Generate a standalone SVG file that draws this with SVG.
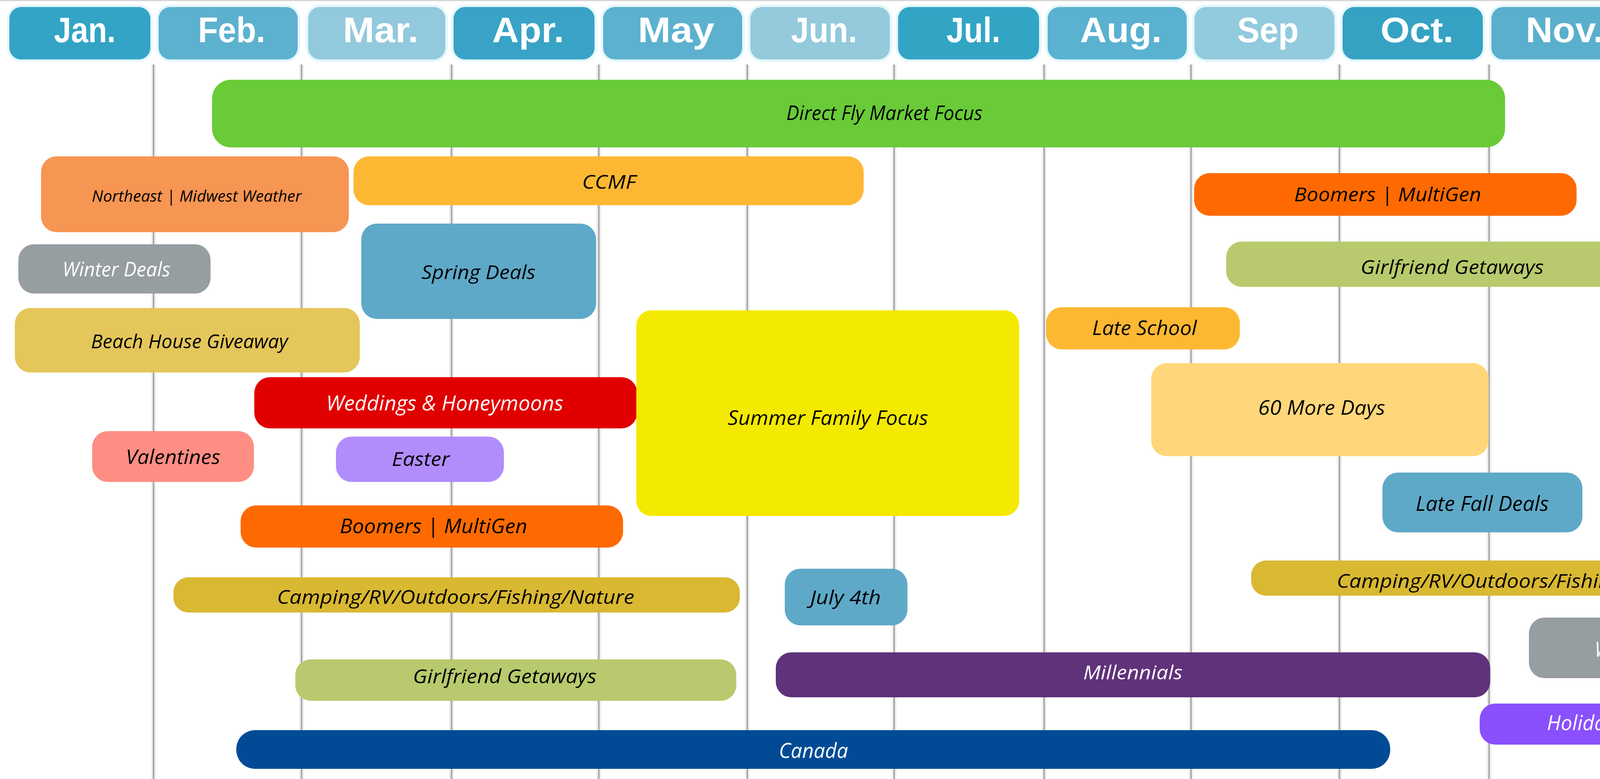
<svg xmlns="http://www.w3.org/2000/svg" width="4578" height="1993" viewBox="0 0 4578 1993">
<style>
.mon{stroke:#e3f7fc;stroke-width:6}
.ml{font-family:"Liberation Sans",Arial,sans-serif;font-weight:bold;font-size:90px;fill:#ffffff}
.gh{stroke:#ededed;stroke-width:12}
.gc{stroke:#a9a9a9;stroke-width:4}
.t{font-family:"Open Sans","Noto Sans","Liberation Sans",sans-serif;font-style:italic;fill:#000000}
.w{fill:#ffffff}
</style>
<rect x="0" y="0" width="4578" height="1993" fill="#ffffff"/>
<rect x="0" y="0" width="4578" height="3" fill="#d6d6d6"/>
<g id="gridlines">
<g class="gh">
<line x1="393" y1="165" x2="393" y2="1993"/><line x1="772" y1="165" x2="772" y2="1993"/><line x1="1156" y1="165" x2="1156" y2="1993"/><line x1="1533" y1="165" x2="1533" y2="1993"/><line x1="1913" y1="165" x2="1913" y2="1993"/><line x1="2289" y1="165" x2="2289" y2="1993"/><line x1="2673" y1="165" x2="2673" y2="1993"/><line x1="3049" y1="165" x2="3049" y2="1993"/><line x1="3429" y1="165" x2="3429" y2="1993"/><line x1="3812" y1="165" x2="3812" y2="1993"/><line x1="4187" y1="165" x2="4187" y2="1993"/>
</g>
<g class="gc">
<line x1="393" y1="165" x2="393" y2="1993"/><line x1="772" y1="165" x2="772" y2="1993"/><line x1="1156" y1="165" x2="1156" y2="1993"/><line x1="1533" y1="165" x2="1533" y2="1993"/><line x1="1913" y1="165" x2="1913" y2="1993"/><line x1="2289" y1="165" x2="2289" y2="1993"/><line x1="2673" y1="165" x2="2673" y2="1993"/><line x1="3049" y1="165" x2="3049" y2="1993"/><line x1="3429" y1="165" x2="3429" y2="1993"/><line x1="3812" y1="165" x2="3812" y2="1993"/><line x1="4187" y1="165" x2="4187" y2="1993"/>
</g>
</g>
<g id="months">
<g id="m-jan"><rect class="mon" x="21" y="15" width="367" height="140" rx="33" fill="#33a4c6"/><text class="ml" x="138" y="108" textLength="158" lengthAdjust="spacingAndGlyphs">Jan.</text></g>
<g id="m-feb"><rect class="mon" x="403" y="15" width="362" height="140" rx="33" fill="#5cb1cf"/><text class="ml" x="507" y="108" textLength="172" lengthAdjust="spacingAndGlyphs">Feb.</text></g>
<g id="m-mar"><rect class="mon" x="786" y="15" width="357" height="140" rx="33" fill="#93c9dc"/><text class="ml" x="878" y="108" textLength="193" lengthAdjust="spacingAndGlyphs">Mar.</text></g>
<g id="m-apr"><rect class="mon" x="1158" y="15" width="367" height="140" rx="33" fill="#38a3c6"/><text class="ml" x="1260" y="108" textLength="184" lengthAdjust="spacingAndGlyphs">Apr.</text></g>
<g id="m-may"><rect class="mon" x="1541" y="15" width="362" height="140" rx="33" fill="#5cb1cf"/><text class="ml" x="1633" y="108" textLength="196" lengthAdjust="spacingAndGlyphs">May</text></g>
<g id="m-jun"><rect class="mon" x="1918" y="15" width="363" height="140" rx="33" fill="#94cadc"/><text class="ml" x="2025" y="108" textLength="169" lengthAdjust="spacingAndGlyphs">Jun.</text></g>
<g id="m-jul"><rect class="mon" x="2296" y="15" width="367" height="140" rx="33" fill="#32a5c4"/><text class="ml" x="2423" y="108" textLength="138" lengthAdjust="spacingAndGlyphs">Jul.</text></g>
<g id="m-aug"><rect class="mon" x="2679" y="15" width="362" height="140" rx="33" fill="#5ab1d0"/><text class="ml" x="2765" y="108" textLength="209" lengthAdjust="spacingAndGlyphs">Aug.</text></g>
<g id="m-sep"><rect class="mon" x="3055" y="15" width="364" height="140" rx="33" fill="#92cade"/><text class="ml" x="3167" y="108" textLength="158" lengthAdjust="spacingAndGlyphs">Sep</text></g>
<g id="m-oct"><rect class="mon" x="3434" y="15" width="365" height="140" rx="33" fill="#36a2c3"/><text class="ml" x="3534" y="108" textLength="187" lengthAdjust="spacingAndGlyphs">Oct.</text></g>
<g id="m-nov"><rect class="mon" x="3815" y="15" width="362" height="140" rx="33" fill="#5aafcd"/><text class="ml" x="3906" y="108" textLength="199" lengthAdjust="spacingAndGlyphs">Nov.</text></g>
<g id="m-dec"><rect class="mon" x="4197" y="15" width="363" height="140" rx="33" fill="#8ecadc"/><text class="ml" x="4289" y="108" textLength="194" lengthAdjust="spacingAndGlyphs">Dec.</text></g>
</g>
<g id="direct-fly"><rect x="543" y="204" width="3310" height="173" rx="48" fill="#69cb38"/><text class="t" x="2013" y="307" font-size="52" textLength="502" lengthAdjust="spacingAndGlyphs">Direct Fly Market Focus</text></g>
<g id="northeast"><rect x="105" y="400" width="788" height="194" rx="40" fill="#f79553"/><text class="t" x="235" y="516" font-size="41" textLength="537" lengthAdjust="spacingAndGlyphs">Northeast | Midwest Weather</text></g>
<g id="ccmf"><rect x="905" y="400" width="1306" height="125" rx="40" fill="#fdb833"/><text class="t" x="1490" y="483" font-size="49" textLength="138" lengthAdjust="spacingAndGlyphs">CCMF</text></g>
<g id="winter-deals-1"><rect x="47" y="625" width="492" height="126" rx="40" fill="#979ea1"/><text class="t w" x="160" y="707" font-size="52" textLength="276" lengthAdjust="spacingAndGlyphs">Winter Deals</text></g>
<g id="spring-deals"><rect x="925" y="572" width="601" height="244" rx="40" fill="#5fa9c8"/><text class="t" x="1079" y="714" font-size="50" textLength="292" lengthAdjust="spacingAndGlyphs">Spring Deals</text></g>
<g id="beach-house"><rect x="38" y="788" width="883" height="165" rx="40" fill="#e4c65a"/><text class="t" x="233" y="891" font-size="50" textLength="504" lengthAdjust="spacingAndGlyphs">Beach House Giveaway</text></g>
<g id="weddings"><rect x="651" y="965" width="980" height="131" rx="40" fill="#e10000"/><text class="t w" x="835" y="1050" font-size="53" textLength="607" lengthAdjust="spacingAndGlyphs">Weddings &amp; Honeymoons</text></g>
<g id="valentines"><rect x="236" y="1103" width="414" height="130" rx="40" fill="#fe8e84"/><text class="t" x="322" y="1187" font-size="52" textLength="242" lengthAdjust="spacingAndGlyphs">Valentines</text></g>
<g id="easter"><rect x="860" y="1117" width="430" height="116" rx="40" fill="#b18dfc"/><text class="t" x="1003" y="1192" font-size="50" textLength="148" lengthAdjust="spacingAndGlyphs">Easter</text></g>
<g id="boomers-1"><rect x="616" y="1293" width="979" height="108" rx="40" fill="#fe6a01"/><text class="t" x="870" y="1364" font-size="52" textLength="480" lengthAdjust="spacingAndGlyphs">Boomers | MultiGen</text></g>
<g id="camping-1"><rect x="444" y="1477" width="1450" height="90" rx="38" fill="#d9b832"/><text class="t" x="709" y="1545" font-size="49" textLength="915" lengthAdjust="spacingAndGlyphs">Camping/RV/Outdoors/Fishing/Nature</text></g>
<g id="girlfriend-1"><rect x="756" y="1687" width="1129" height="106" rx="40" fill="#b8ca6d"/><text class="t" x="1057" y="1748" font-size="49" textLength="470" lengthAdjust="spacingAndGlyphs">Girlfriend Getaways</text></g>
<g id="canada"><rect x="605" y="1868" width="2954" height="99" rx="48" fill="#014b96"/><text class="t w" x="1994" y="1939" font-size="53" textLength="177" lengthAdjust="spacingAndGlyphs">Canada</text></g>
<g id="summer"><rect x="1629" y="794" width="980" height="526" rx="38" fill="#f4e900"/><text class="t" x="1863" y="1087" font-size="52" textLength="513" lengthAdjust="spacingAndGlyphs">Summer Family Focus</text></g>
<g id="july4"><rect x="2009" y="1455" width="314" height="145" rx="40" fill="#5fa9c8"/><text class="t" x="2074" y="1546" font-size="50" textLength="181" lengthAdjust="spacingAndGlyphs">July 4th</text></g>
<g id="millennials"><rect x="1986" y="1669" width="1829" height="115" rx="40" fill="#603279"/><text class="t w" x="2773" y="1738" font-size="50" textLength="254" lengthAdjust="spacingAndGlyphs">Millennials</text></g>
<g id="late-school"><rect x="2678" y="786" width="496" height="108" rx="40" fill="#fdb833"/><text class="t" x="2796" y="857" font-size="52" textLength="268" lengthAdjust="spacingAndGlyphs">Late School</text></g>
<g id="sixty-more-days"><rect x="2947" y="929" width="864" height="238" rx="40" fill="#fed77a"/><text class="t" x="3221" y="1061" font-size="52" textLength="325" lengthAdjust="spacingAndGlyphs">60 More Days</text></g>
<g id="boomers-2"><rect x="3057" y="443" width="979" height="109" rx="40" fill="#fe6a01"/><text class="t" x="3313" y="515" font-size="50" textLength="479" lengthAdjust="spacingAndGlyphs">Boomers | MultiGen</text></g>
<g id="girlfriend-2"><rect x="3139" y="618" width="1158" height="116" rx="40" fill="#b8ca6d"/><text class="t" x="3483" y="701" font-size="49" textLength="469" lengthAdjust="spacingAndGlyphs">Girlfriend Getaways</text></g>
<g id="late-fall"><rect x="3539" y="1209" width="512" height="153" rx="40" fill="#5fa9c8"/><text class="t" x="3624" y="1307" font-size="53" textLength="341" lengthAdjust="spacingAndGlyphs">Late Fall Deals</text></g>
<g id="camping-2"><rect x="3203" y="1434" width="1308" height="90" rx="38" fill="#d9b832"/><text class="t" x="3422" y="1504" font-size="50" textLength="916" lengthAdjust="spacingAndGlyphs">Camping/RV/Outdoors/Fishing/Nature</text></g>
<g id="winter-deals-2"><rect x="3914" y="1580" width="601" height="155" rx="40" fill="#979ea1"/><text class="t w" x="4082" y="1680" font-size="53" textLength="275" lengthAdjust="spacingAndGlyphs">Winter Deals</text></g>
<g id="holiday-push"><rect x="3788" y="1800" width="641" height="105" rx="40" fill="#8a50fd"/><text class="t w" x="3960" y="1868" font-size="53" textLength="301" lengthAdjust="spacingAndGlyphs">Holiday Push</text></g>
</svg>
